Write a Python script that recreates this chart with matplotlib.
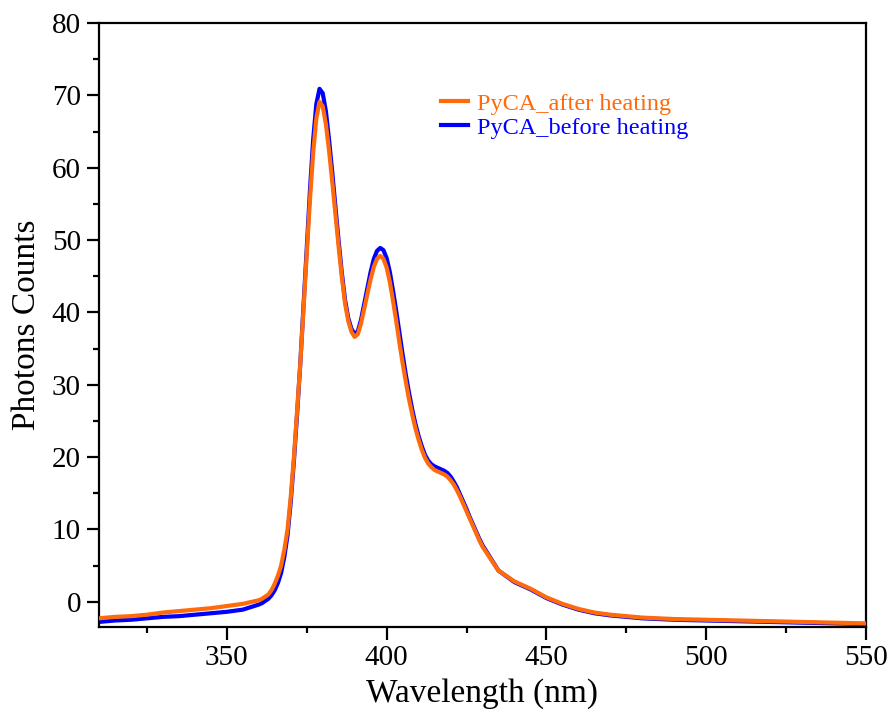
import matplotlib.pyplot as plt
from matplotlib.ticker import MultipleLocator

plt.rcParams['font.family'] = ['Liberation Serif', 'DejaVu Serif']

# wavelength grid (nm) and photon counts
wavelength = ([310, 315, 320, 325, 330, 335, 340, 345, 350, 355]
              + list(range(360, 431))
              + [435, 440, 445, 450, 455, 460, 465, 470, 480, 490, 500, 510,
                 520, 530, 540, 550])

after_heating = [-2.3, -2.1, -2.0, -1.8, -1.5, -1.3, -1.1, -0.9, -0.6, -0.3,
                 # 360 - 430
                 0.2, 0.4, 0.7, 1.0, 1.6, 2.5, 3.6, 5.0, 7.2, 10.0,
                 14.5, 20.0, 26.5, 33.0, 40.5, 48.0, 55.5, 62.0, 66.8, 69.1,
                 68.5, 66.0, 62.3, 58.0, 53.5, 49.0, 44.8, 41.2, 38.8, 37.3,
                 36.6, 37.0, 38.5, 40.5, 42.6, 44.6, 46.3, 47.4, 47.8, 47.4,
                 46.2, 44.2, 41.6, 38.8, 35.8, 33.0, 30.4, 28.0, 25.9, 24.0,
                 22.4, 21.0, 19.9, 19.1, 18.6, 18.2, 18.0, 17.8, 17.6, 17.3,
                 16.8, 16.2, 15.4, 14.5, 13.5, 12.5, 11.5, 10.5, 9.5, 8.5,
                 7.6,
                 # 435 - 550
                 4.3, 2.8, 1.8, 0.6, -0.3, -1.0, -1.5, -1.8, -2.2, -2.4, -2.5,
                 -2.6, -2.7, -2.8, -2.9, -3.0]

before_heating = [-2.8, -2.6, -2.5, -2.3, -2.1, -2.0, -1.8, -1.6, -1.4, -1.1,
                  # 360 - 430
                  -0.4, -0.2, 0.1, 0.4, 0.9, 1.6, 2.6, 4.0, 6.2, 9.2,
                  13.8, 19.5, 26.0, 33.0, 41.0, 48.8, 56.8, 63.8, 68.8, 70.9,
                  70.3, 67.8, 63.8, 59.3, 54.5, 49.8, 45.4, 41.7, 39.2, 37.7,
                  37.0, 37.4, 39.0, 41.2, 43.4, 45.6, 47.4, 48.5, 48.9, 48.6,
                  47.5, 45.6, 43.0, 40.2, 37.2, 34.2, 31.4, 28.9, 26.6, 24.6,
                  22.9, 21.5, 20.3, 19.5, 19.0, 18.7, 18.5, 18.3, 18.1, 17.8,
                  17.3, 16.6, 15.8, 14.8, 13.8, 12.8, 11.7, 10.7, 9.7, 8.7,
                  7.8,
                  # 435 - 550
                  4.3, 2.7, 1.7, 0.5, -0.4, -1.1, -1.6, -1.9, -2.3, -2.5, -2.6,
                  -2.7, -2.8, -2.9, -3.0, -3.1]

fig = plt.figure(figsize=(8.94, 7.15), dpi=100)
ax = fig.add_axes([99 / 894, 1 - 627 / 715, 767 / 894, 604 / 715])

ax.plot(wavelength, before_heating, color='#0000ff', lw=3, label='PyCA_before heating', zorder=2)
ax.plot(wavelength, after_heating, color='#ff6a0a', lw=3, label='PyCA_after heating', zorder=3)

ax.set_xlim(310, 550)
ax.set_ylim(-3.5, 80)
ax.xaxis.set_major_locator(MultipleLocator(50))
ax.xaxis.set_minor_locator(MultipleLocator(25))
ax.yaxis.set_major_locator(MultipleLocator(10))
ax.yaxis.set_minor_locator(MultipleLocator(5))
ax.tick_params(which='major', direction='out', length=9, width=1.6, labelsize=21,
               top=False, right=False, pad=4)
ax.tick_params(which='minor', direction='out', length=4, width=1.6, top=False, right=False)
for s in ax.spines.values():
    s.set_linewidth(1.6)

ax.set_xlabel('Wavelength (nm)', fontsize=24, labelpad=5)
ax.set_ylabel('Photons Counts', fontsize=24, labelpad=7)

handles, labels = ax.get_legend_handles_labels()
leg = ax.legend(handles[::-1], labels[::-1], loc='upper left',
                bbox_to_anchor=(0.43, 0.905), frameon=False, fontsize=17.5,
                handlelength=1.1, handletextpad=0.4, labelspacing=0.1,
                borderpad=0)
for txt, h in zip(leg.get_texts(), leg.legend_handles):
    txt.set_color(h.get_color())

fig.savefig('out.png', dpi=100)
